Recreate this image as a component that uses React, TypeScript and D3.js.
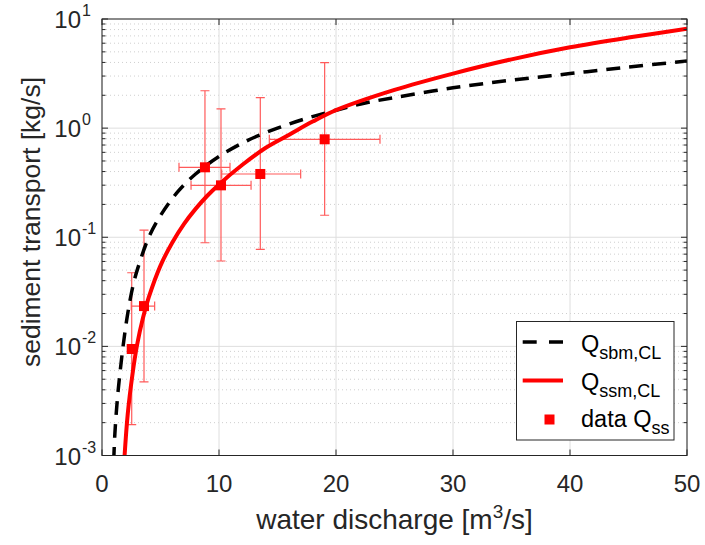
import React from "react";
import * as d3 from "d3";

// ---- data ----
const sbmX = [1.0, 1.1, 1.3, 1.5, 1.8, 2.2, 2.7, 3.25, 4.0, 5.0, 6.5, 8.0, 10, 12.5, 15, 17.5, 20, 22.5, 25, 30, 35, 40, 45, 50];
const sbmY = [0.000891, 0.00158, 0.00316, 0.00525, 0.01, 0.02, 0.038, 0.0603, 0.1, 0.158, 0.263, 0.38, 0.55, 0.776, 1.0, 1.23, 1.46, 1.7, 1.905, 2.34, 2.75, 3.16, 3.63, 4.12];

const ssmX = [1.8, 1.9, 2.2, 2.6, 3.0, 3.5, 4.0, 5.0, 6.0, 7.0, 8.0, 9.0, 10, 12, 14, 16, 18, 20, 25, 30, 35, 40, 45, 50];
const ssmY = [0.00056, 0.00089, 0.0024, 0.0055, 0.01035, 0.0182, 0.0282, 0.055, 0.0891, 0.132, 0.182, 0.24, 0.305, 0.462, 0.661, 0.871, 1.148, 1.462, 2.24, 3.16, 4.27, 5.5, 6.76, 8.13];

const dataX = [2.54, 3.59, 8.8, 10.17, 13.53, 19.03];
const dataY = [0.00946, 0.0234, 0.4375, 0.299, 0.38, 0.79];
const dataXLo = [2.25, 2.5, 6.58, 7.61, 10.23, 14.3];
const dataXHi = [2.85, 4.5, 10.94, 12.74, 16.98, 23.76];
const dataYLo = [0.00192, 0.00472, 0.089, 0.0606, 0.0773, 0.159];
const dataYHi = [0.0473, 0.116, 2.2, 1.5, 1.9, 3.98];

const xTicks = [0, 10, 20, 30, 40, 50];
const yDecades = [-3, -2, -1, 0, 1];

const W = 705;
const H = 545;
const M = { left: 102, right: 687, top: 19, bottom: 455.5 };
const FONT = "'Liberation Sans', Arial, Helvetica, sans-serif";
const AX = "#262626";

export default function App() {
  const x = d3.scaleLinear().domain([0, 50]).range([M.left, M.right]);
  const y = d3.scaleLog().domain([1e-3, 10]).range([M.bottom, M.top]);

  const minorY: number[] = [];
  for (let e = -3; e < 1; e++) for (let k = 2; k <= 9; k++) minorY.push(k * Math.pow(10, e));

  const line = d3
    .line<[number, number]>()
    .x((d) => x(d[0]))
    .y((d) => y(d[1]))
    .curve(d3.curveCatmullRom.alpha(0.5));

  const sbm = sbmX.map((v, i) => [v, sbmY[i]] as [number, number]);
  const ssm = ssmX.map((v, i) => [v, ssmY[i]] as [number, number]);
  const cap = 4.5;

  return (
    <svg width={W} height={H} style={{ position: "absolute", left: 0, top: 0, background: "#fff" }} fontFamily={FONT}>
      <defs>
        <clipPath id="plotclip">
          <rect x={M.left} y={M.top} width={M.right - M.left} height={M.bottom - M.top} />
        </clipPath>
      </defs>
      <rect x={0} y={0} width={W} height={H} fill="#fff" />
      {/* minor grid */}
      {minorY.map((v) => (
        <line key={"mg" + v} x1={M.left} x2={M.right} y1={y(v)} y2={y(v)} stroke="#cfcfcf" strokeWidth={1} strokeDasharray="1,3" />
      ))}
      {/* major grid */}
      {yDecades.map((e) => (
        <line key={"gy" + e} x1={M.left} x2={M.right} y1={y(Math.pow(10, e))} y2={y(Math.pow(10, e))} stroke="#dedede" strokeWidth={1} />
      ))}
      {xTicks.map((t) => (
        <line key={"gx" + t} x1={x(t)} x2={x(t)} y1={M.top} y2={M.bottom} stroke="#dedede" strokeWidth={1} />
      ))}

      <g clipPath="url(#plotclip)">
        {/* error bars */}
        {dataX.map((v, i) => (
          <g key={"eb" + i} stroke="#ff5a5a" strokeWidth={1.2}>
            <line x1={x(v)} x2={x(v)} y1={y(dataYLo[i])} y2={y(dataYHi[i])} />
            <line x1={x(v) - cap} x2={x(v) + cap} y1={y(dataYLo[i])} y2={y(dataYLo[i])} />
            <line x1={x(v) - cap} x2={x(v) + cap} y1={y(dataYHi[i])} y2={y(dataYHi[i])} />
            <line x1={x(dataXLo[i])} x2={x(dataXHi[i])} y1={y(dataY[i])} y2={y(dataY[i])} />
            <line x1={x(dataXLo[i])} x2={x(dataXLo[i])} y1={y(dataY[i]) - cap} y2={y(dataY[i]) + cap} />
            <line x1={x(dataXHi[i])} x2={x(dataXHi[i])} y1={y(dataY[i]) - cap} y2={y(dataY[i]) + cap} />
          </g>
        ))}
        <path d={line(sbm) || ""} fill="none" stroke="#000" strokeWidth={3.5} strokeDasharray="14,9" />
        <path d={line(ssm) || ""} fill="none" stroke="#ff0000" strokeWidth={4} />
        {dataX.map((v, i) => (
          <rect key={"pt" + i} x={x(v) - 5} y={y(dataY[i]) - 5} width={10} height={10} fill="#ff0000" />
        ))}
      </g>

      {/* axes box */}
      <rect x={M.left} y={M.top} width={M.right - M.left} height={M.bottom - M.top} fill="none" stroke={AX} strokeWidth={1} />
      {/* x ticks */}
      {xTicks.map((t) => (
        <g key={"xt" + t}>
          <line x1={x(t)} x2={x(t)} y1={M.bottom} y2={M.bottom - 6} stroke={AX} />
          <line x1={x(t)} x2={x(t)} y1={M.top} y2={M.top + 6} stroke={AX} />
          <text x={x(t)} y={492} textAnchor="middle" fontSize={24} fill={AX}>
            {t}
          </text>
        </g>
      ))}
      {/* y ticks */}
      {yDecades.map((e) => (
        <g key={"yt" + e}>
          <line x1={M.left} x2={M.left + 6} y1={y(Math.pow(10, e))} y2={y(Math.pow(10, e))} stroke={AX} />
          <line x1={M.right} x2={M.right - 6} y1={y(Math.pow(10, e))} y2={y(Math.pow(10, e))} stroke={AX} />
          <text x={81} y={y(Math.pow(10, e)) + 9} textAnchor="end" fontSize={24} fill={AX}>
            10
          </text>
          <text x={82} y={y(Math.pow(10, e)) - 3} textAnchor="start" fontSize={16} fill={AX}>
            {e < 0 ? "-" + Math.abs(e) : String(e)}
          </text>
        </g>
      ))}
      {minorY.map((v) => (
        <g key={"ym" + v}>
          <line x1={M.left} x2={M.left + 3.5} y1={y(v)} y2={y(v)} stroke={AX} />
          <line x1={M.right} x2={M.right - 3.5} y1={y(v)} y2={y(v)} stroke={AX} />
        </g>
      ))}

      {/* axis labels */}
      <text x={(M.left + M.right) / 2} y={529} textAnchor="middle" fontSize={28} fill={AX}>
        water discharge [m<tspan dy={-11} fontSize={19}>3</tspan><tspan dy={11}>/s]</tspan>
      </text>
      <text transform={`translate(40, 222) rotate(-90)`} textAnchor="middle" fontSize={26.5} fill={AX}>
        sediment transport [kg/s]
      </text>

      {/* legend */}
      <g>
        <rect x={516.5} y={321.5} width={157.5} height={118.5} fill="#fff" stroke={AX} strokeWidth={1} />
        <line x1={522.7} x2={563} y1={342} y2={342} stroke="#000" strokeWidth={3.5} strokeDasharray="14,12.3" />
        <line x1={522.7} x2={563} y1={380.5} y2={380.5} stroke="#ff0000" strokeWidth={4} />
        <rect x={544.5} y={414.5} width={10} height={10} fill="#ff0000" />
        <text x={581} y={352} fontSize={23.5} fill="#000">
          Q<tspan dy={7} fontSize={18}>sbm,CL</tspan>
        </text>
        <text x={581} y={390} fontSize={23.5} fill="#000">
          Q<tspan dy={7} fontSize={18}>ssm,CL</tspan>
        </text>
        <text x={581} y={427} fontSize={23.5} fill="#000">
          data Q<tspan dy={7} fontSize={18}>ss</tspan>
        </text>
      </g>
    </svg>
  );
}
